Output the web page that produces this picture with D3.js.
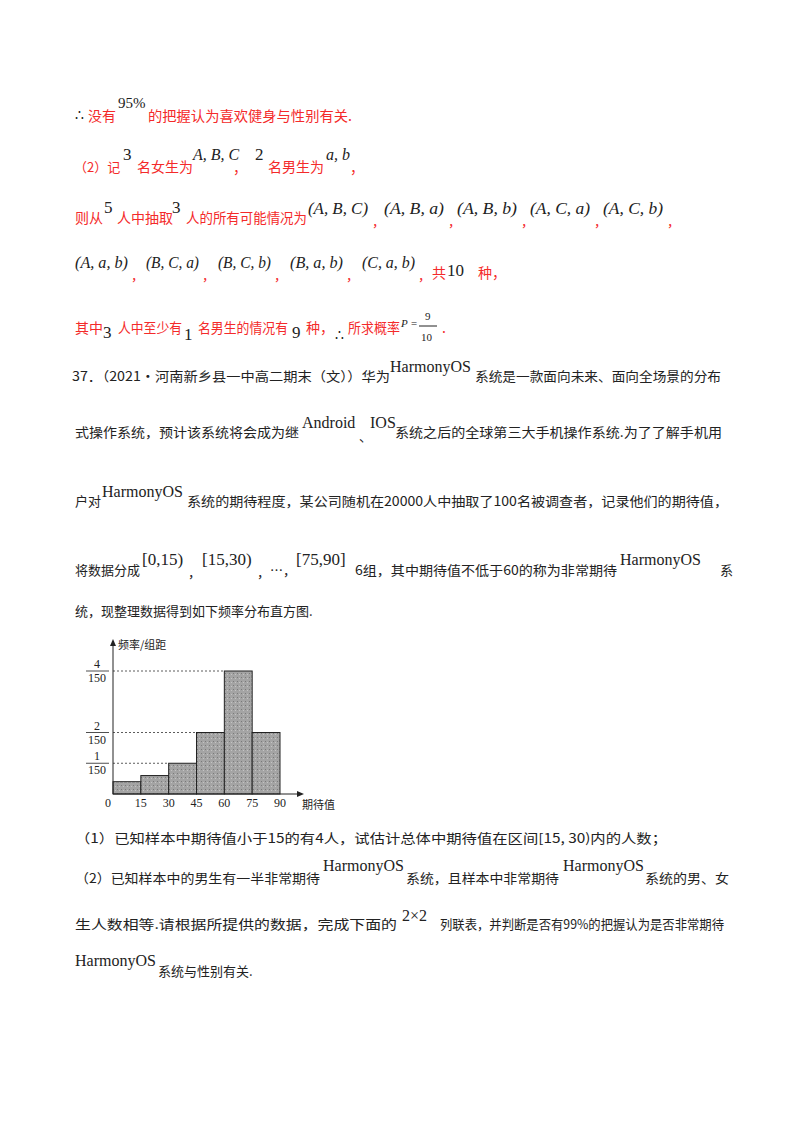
<!DOCTYPE html>
<html><head><meta charset="utf-8">
<script src="https://cdn.jsdelivr.net/npm/d3@7"></script>
<style>body{margin:0;background:#fff}svg{display:block}</style>
</head><body>
<svg id="page" width="800" height="1132"></svg>
<script>
// Histogram data
const binEdges = [0, 15, 30, 45, 60, 75, 90];
const binHeights = [0.4/150, 0.6/150, 1/150, 2/150, 4/150, 2/150]; // 频率/组距
const yTickNums = [1, 2, 4];
const yTickDen = 150;
const xTickLabels = ["0","15","30","45","60","75","90"];

const RED = "#f42a2a", CJK = "'Noto Sans CJK SC'", SER = "'Liberation Serif','DejaVu Serif',serif";
const svg = d3.select("#page");
svg.append("rect").attr("width",800).attr("height",1132).attr("fill","#fff");

// text segments: [x, y, text, color, font, size, italic, textLength]
const R="r", K="k";
const segs = [
 [75,120,"∴",K,SER,14],[88,121,"没有",R,CJK,14],[118,108,"95%",K,SER,15],[148,121,"的把握认为喜欢健身与性别有关.",R,CJK,14,0,204],
 [74,172,"（2）记",R,CJK,13],[123,160,"3",K,SER,17],[137,172,"名女生为",R,CJK,14],[193,160,"A, B, C",K,SER,16,1],[233,173,"，",R,CJK,14],
 [255,160,"2",K,SER,17],[268,172,"名男生为",R,CJK,14],[326,160,"a, b",K,SER,16,1],[350,173,"，",R,CJK,14],
 [75,223,"则从",R,CJK,14],[104,213,"5",K,SER,17],[117,223,"人中抽取",R,CJK,14],[172,213,"3",K,SER,17],[186,223,"人的所有可能情况为",R,CJK,14,0,121],
 [75,333,"其中",R,CJK,14],[103,338,"3",K,SER,17],[118,333,"人中至少有",R,CJK,14,0,64],[184,340,"1",K,SER,17],[198,333,"名男生的情况有",R,CJK,14,0,90],
 [292,338,"9",K,SER,17],[306,333,"种，",R,CJK,14],[335,340,"∴",K,SER,14],[348,333,"所求概率",R,CJK,14,0,52],[401,327,"P =",K,SER,11,1],
 [425,320,"9",K,SER,11],[421,341,"10",K,SER,11],[442,333,".",R,CJK,14],
 [432,278,"共",R,CJK,14],[447,276,"10",K,SER,17],[478,278,"种，",R,CJK,14],
 [72,381,"37．（2021·河南新乡县一中高二期末（文））华为",K,CJK,13,0,318],[390,372,"HarmonyOS",K,SER,16],[475,381,"系统是一款面向未来、面向全场景的分布",K,CJK,13,0,246],
 [75,437,"式操作系统，预计该系统将会成为继",K,CJK,13,0,224],[302,428,"Android",K,SER,16],[359,441,"、",K,CJK,13],[370,428,"IOS",K,SER,16],[395,437,"系统之后的全球第三大手机操作系统.为了了解手机用",K,CJK,13,0,327],
 [75,506,"户对",K,CJK,13],[102,497,"HarmonyOS",K,SER,16],[187,506,"系统的期待程度，某公司随机在20000人中抽取了100名被调查者，记录他们的期待值，",K,CJK,13,0,541],
 [75,575,"将数据分成",K,CJK,13],[142,565,"[0,15)",K,SER,17],[188,577,"，",K,CJK,13],[202,565,"[15,30)",K,SER,17],[257,577,"，",K,CJK,13],
 [270,575,"…，",K,CJK,13],[296,565,"[75,90]",K,SER,17],[355,575,"6组，其中期待值不低于60的称为非常期待",K,CJK,13,0,262],[620,565,"HarmonyOS",K,SER,16],[720,575,"系",K,CJK,13],
 [75,616,"统，现整理数据得到如下频率分布直方图.",K,CJK,13],
 [75,843,"（1）已知样本中期待值小于15的有4人，试估计总体中期待值在区间[15, 30)内的人数；",K,CJK,13,0,592],
 [75,883,"（2）已知样本中的男生有一半非常期待",K,CJK,13,0,245],[323,871,"HarmonyOS",K,SER,16],[406,883,"系统，且样本中非常期待",K,CJK,13,0,153],[563,871,"HarmonyOS",K,SER,16],[645,883,"系统的男、女",K,CJK,13,0,84],
 [75,929,"生人数相等.请根据所提供的数据，完成下面的",K,CJK,13,0,322],[402,921,"2×2",K,SER,16],[440,929,"列联表，并判断是否有99%的把握认为是否非常期待",K,CJK,13,0,284],
 [75,966,"HarmonyOS",K,SER,16],[158,976,"系统与性别有关.",K,CJK,13]
];
// tuples
const tuples1 = ["A,B,C","A,B,a","A,B,b","A,C,a","A,C,b"], t1x=[308,384,457,530,603];
const tuples2 = ["A,a,b","B,C,a","B,C,b","B,a,b","C,a,b"], t2x=[75,146,218,290,362];
tuples1.forEach((t,i)=>{segs.push([t1x[i],214,"("+t.split(",").join(", ")+")",K,SER,16,1,60]);segs.push([t1x[i]+64,226,"，",R,CJK,13]);});
tuples2.forEach((t,i)=>{segs.push([t2x[i],268,"("+t.split(",").join(", ")+")",K,SER,16,1,53]);segs.push([t2x[i]+56,280,"，",R,CJK,13]);});

segs.forEach(s=>{
  const t = svg.append("text").attr("x",s[0]).attr("y",s[1]).text(s[2])
    .attr("fill", s[3]===R?RED:"#222").attr("font-family",s[4]).attr("font-size",s[5])
    .attr("font-style", s[6]?"italic":"normal");
  if(s[7]) t.attr("textLength",s[7]).attr("lengthAdjust","spacingAndGlyphs");
});
svg.append("line").attr("x1",419).attr("x2",437).attr("y1",326).attr("y2",326).attr("stroke","#222");

// Histogram
const x = d3.scaleLinear().domain([0,90]).range([113,280]);
const y = d3.scaleLinear().domain([0,4/150]).range([794,671]);
const defs = svg.append("defs");
const pat = defs.append("pattern").attr("id","stip").attr("width",4).attr("height",4).attr("patternUnits","userSpaceOnUse");
pat.append("rect").attr("width",4).attr("height",4).attr("fill","#a4a4a4");
pat.append("rect").attr("x",1).attr("y",1).attr("width",1).attr("height",1).attr("fill","#7a7a7a");
pat.append("rect").attr("x",3).attr("y",2).attr("width",1).attr("height",1).attr("fill","#c4c4c4");
const g = svg.append("g");
const bars = binHeights.map((h,i)=>({x0:binEdges[i],x1:binEdges[i+1],h}));
yTickNums.forEach(n=>{
  const v=n/yTickDen; const b=bars.find(d=>Math.abs(d.h-v)<1e-9);
  g.append("line").attr("x1",x(0)).attr("x2",x(b.x0)).attr("y1",y(v)).attr("y2",y(v))
   .attr("stroke","#333").attr("stroke-dasharray","2,2").attr("stroke-width",0.8);
});
g.selectAll("rect.bar").data(bars).join("rect").attr("class","bar")
  .attr("x",d=>x(d.x0)).attr("width",d=>x(d.x1)-x(d.x0)).attr("y",d=>y(d.h)).attr("height",d=>y(0)-y(d.h))
  .attr("fill","url(#stip)").attr("stroke","#222").attr("stroke-width",1);
g.append("line").attr("x1",x(0)).attr("x2",x(0)).attr("y1",y(0)).attr("y2",642).attr("stroke","#222");
g.append("path").attr("d",`M${x(0)},639 l-3,7 l6,0 z`).attr("fill","#222");
g.append("line").attr("x1",x(0)).attr("x2",300).attr("y1",y(0)).attr("y2",y(0)).attr("stroke","#222");
g.append("path").attr("d",`M304,${y(0)} l-7,-3 l0,6 z`).attr("fill","#222");
g.append("text").attr("x",118).attr("y",649).text("频率/组距").attr("font-family",CJK).attr("font-size",11).attr("fill","#222");
g.append("text").attr("x",302).attr("y",809).text("期待值").attr("font-family",CJK).attr("font-size",11).attr("fill","#222");
xTickLabels.forEach((l,i)=>{
  g.append("text").attr("x",x(binEdges[i])+(i===0?-5:0)).attr("y",807).attr("text-anchor","middle")
   .text(l).attr("font-family",SER).attr("font-size",12).attr("fill","#222");
});
yTickNums.forEach(n=>{
  const yy=y(n/yTickDen);
  g.append("line").attr("x1",86).attr("x2",109).attr("y1",yy).attr("y2",yy).attr("stroke","#222").attr("stroke-width",0.8);
  g.append("text").attr("x",97).attr("y",yy-3).attr("text-anchor","middle").text(n).attr("font-family",SER).attr("font-size",12).attr("fill","#222");
  g.append("text").attr("x",97).attr("y",yy+11).attr("text-anchor","middle").text(yTickDen).attr("font-family",SER).attr("font-size",12).attr("fill","#222");
});
</script>
</body></html>
